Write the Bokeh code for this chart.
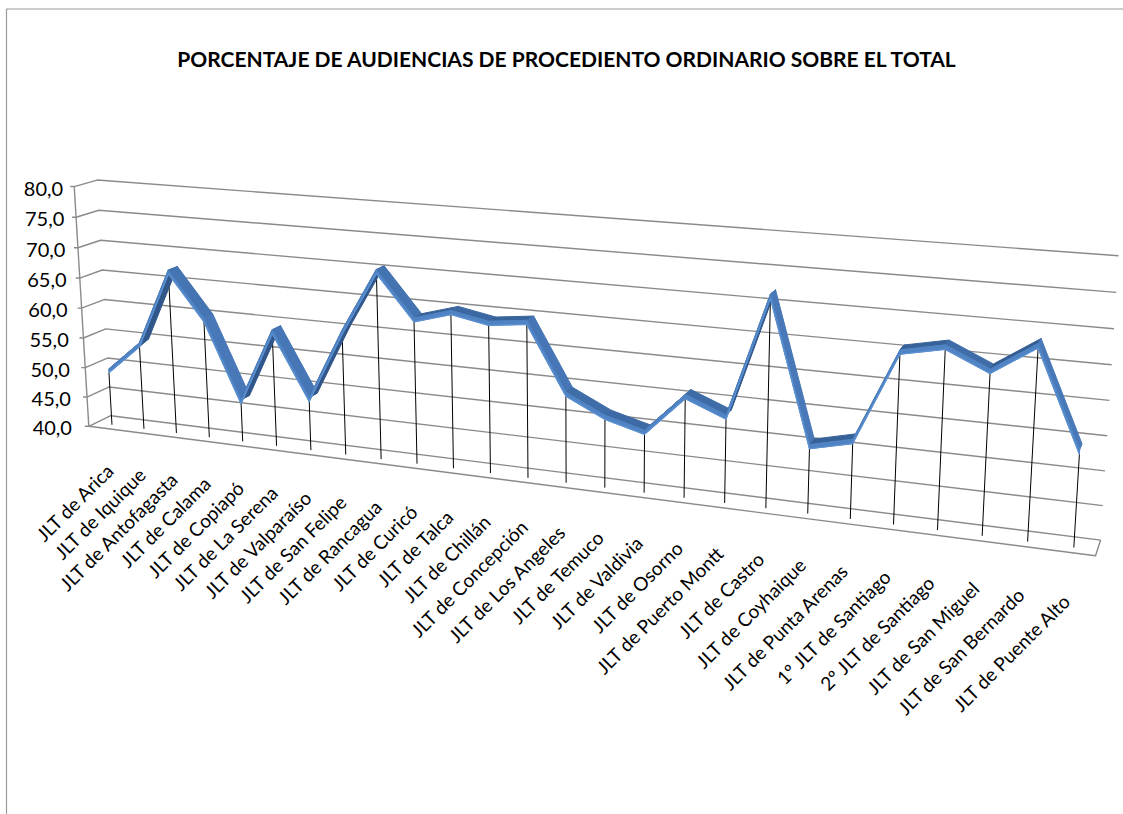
import numpy as np
from bokeh.plotting import figure
from bokeh.models import Range1d
from bokeh.embed import file_html
from bokeh.resources import INLINE
from bokeh.core.properties import value

# ---------------------------------------------------------------- data
categorias = [
    "JLT de Arica", "JLT de Iquique", "JLT de Antofagasta", "JLT de Calama",
    "JLT de Copiapó", "JLT de La Serena", "JLT de Valparaíso", "JLT de San Felipe",
    "JLT de Rancagua", "JLT de Curicó", "JLT de Talca", "JLT de Chillán",
    "JLT de Concepción", "JLT de Los Angeles", "JLT de Temuco", "JLT de Valdivia",
    "JLT de Osorno", "JLT de Puerto Montt", "JLT de Castro", "JLT de Coyhaique",
    "JLT de Punta Arenas", "1º JLT de Santiago", "2º JLT de Santiago",
    "JLT de San Miguel", "JLT de San Bernardo", "JLT de Puente Alto",
]
porcentaje = [
    48.9, 53.9, 66.5, 59.2, 46.3, 58.4, 48.0, 59.5, 69.6, 62.6,
    64.3, 63.2, 63.9, 53.5, 50.6, 49.0, 55.1, 52.7, 71.1, 49.7,
    51.2, 64.8, 66.1, 63.3, 67.5, 53.3,
]
y_ticks = [40, 45, 50, 55, 60, 65, 70, 75, 80]
y_tick_labels = ["40,0", "45,0", "50,0", "55,0", "60,0", "65,0", "70,0", "75,0", "80,0"]
titulo = "PORCENTAJE DE AUDIENCIAS DE PROCEDIENTO ORDINARIO SOBRE EL TOTAL"

V_MIN, V_MAX = 40.0, 80.0
W, H = 1123, 814

# ------------------------------------------------- 3-D box / camera
# Box coordinates: u along the categories (0..1), v value fraction (0..1),
# w depth (0 = front, 1 = back wall).  The camera is solved from where the
# box edges sit on the page (direct linear transform).
back_left_y = [415, 387, 358, 328, 298, 269, 240, 210, 180]
back_right_y = [540, 505, 470, 435, 400, 365, 328, 292, 255]
calib_world, calib_page = [], []
for k in range(9):
    v = k / 8.0
    calib_world.append((0.0, v, 1.0)); calib_page.append((110 - 13 * v, back_left_y[k]))
    calib_world.append((1.0, v, 1.0)); calib_page.append((1100 + 18 * v, back_right_y[k]))
calib_world += [(0.0, 0.0, 0.0), (0.0, 1.0, 0.0), (1.0, 0.0, 0.0)]
calib_page += [(89, 426), (73, 186), (1095, 555)]


def solve_camera(world, page):
    s = np.asarray(page, float)
    m = s.mean(0)
    sc = np.sqrt(2) / np.mean(np.linalg.norm(s - m, axis=1))
    T = np.array([[sc, 0, -sc * m[0]], [0, sc, -sc * m[1]], [0, 0, 1]])
    sn = (s - m) * sc
    rows = []
    for (X, Y, Z), (x, y) in zip(world, sn):
        rows.append([X, Y, Z, 1, 0, 0, 0, 0, -x * X, -x * Y, -x * Z, -x])
        rows.append([0, 0, 0, 0, X, Y, Z, 1, -y * X, -y * Y, -y * Z, -y])
    _, _, vt = np.linalg.svd(np.asarray(rows, float))
    return np.linalg.inv(T) @ vt[-1].reshape(3, 4)


CAM = solve_camera(calib_world, calib_page)


def proj(u, v, w):
    u, v, w = np.broadcast_arrays(np.atleast_1d(np.asarray(u, float)),
                                  np.atleast_1d(np.asarray(v, float)),
                                  np.atleast_1d(np.asarray(w, float)))
    h = CAM @ np.vstack([u, v, w, np.ones_like(u)])
    return h[0] / h[2], h[1] / h[2]


def vfrac(val):
    return (np.asarray(val, float) - V_MIN) / (V_MAX - V_MIN)


N = len(categorias)
u_cat = (np.arange(N) + 0.5) / N
v_dat = vfrac(porcentaje)
WF, WB = 0.33, 0.76          # front / back depth of the series ribbon
RH = 0.016                   # height of the ribbon's front face (value fraction)

# ---------------------------------------------------------------- figure
p = figure(width=W, height=H, x_range=Range1d(0, W), y_range=Range1d(H, 0),
           x_axis_type=None, y_axis_type=None, output_backend="svg",
           toolbar_location=None, min_border=0, background_fill_color="white")
p.grid.visible = False
p.outline_line_color = None

GRID = "#8a8a8a"

# chart area frame
p.line([6, 6, W + 5], [H + 5, 8.5, 8.5], line_color="#9a9a9a", line_width=1.2)

# back wall and side wall gridlines
gx, gy = [], []
for t in y_ticks:
    v = vfrac(t)
    x0, y0 = proj([0, 0, 1], [v, v, v], [0, 1, 1])
    fx, fy = proj(0, v, 0)
    gx.append([fx[0] - 4] + list(x0)); gy.append([fy[0]] + list(y0))
p.multi_line(gx, gy, line_color=GRID, line_width=1.4)

# value axis (front left edge)
ax, ay = proj([0, 0], [0, 1], [0, 0])
p.line(ax, ay, line_color=GRID, line_width=1.4)

# floor outline
fx, fy = proj([0, 1, 1], [0, 0, 0], [0, 0, 1])
p.line(fx, fy, line_color=GRID, line_width=1.4)

# value labels
tx, ty = proj(np.zeros(len(y_ticks)), vfrac(y_ticks), np.zeros(len(y_ticks)))
lx = tx - 11 - 0.4 * (tx - tx[-1])
p.text(lx, ty + 2, text=y_tick_labels, text_align="right", text_baseline="middle",
       text_font=value("Lato"), text_font_size="20px", text_color="#000000")

# drop lines
dx0, dy0 = proj(u_cat, v_dat, WF)
dx1, dy1 = proj(u_cat, 0.0, WF)
p.segment(dx0, dy0, dx1, dy1, line_color="#000000", line_width=1)

# series ribbon: top face shaded by slope, front face lighter
c_desc = np.array([72, 120, 184])
c_flat = np.array([58, 102, 158])
c_asc = np.array([48, 86, 138])


def top_colour(du, dv):
    ang = np.degrees(np.arctan2(dv, du))
    k = min(abs(ang) / 65.0, 1.0)
    end = c_desc if ang < 0 else c_asc
    c = (c_flat + (end - c_flat) * k).astype(int)
    return "#%02x%02x%02x" % tuple(c)


top_xs, top_ys, top_cols = [], [], []
front_xs, front_ys = [], []
for i in range(N - 1):
    u2 = [u_cat[i], u_cat[i + 1], u_cat[i + 1], u_cat[i]]
    v_top = [v_dat[i] + RH, v_dat[i + 1] + RH, v_dat[i + 1] + RH, v_dat[i] + RH]
    px, py = proj(u2, v_top, [WF, WF, WB, WB])
    top_xs.append(list(px)); top_ys.append(list(py))
    du = (u_cat[i + 1] - u_cat[i]) * 1000
    dv = (v_dat[i + 1] - v_dat[i]) * 260
    top_cols.append(top_colour(du, dv))
    qx, qy = proj(u2, [v_dat[i], v_dat[i + 1], v_dat[i + 1] + RH, v_dat[i] + RH], WF)
    front_xs.append(list(qx)); front_ys.append(list(qy))

p.patches(top_xs, top_ys, fill_color=top_cols, line_color=top_cols, line_width=1)
p.patches(front_xs, front_ys, fill_color="#4f83c3", line_color="#4f83c3", line_width=1)
ex, ey = proj(u_cat, v_dat, WF)
p.line(ex, ey, line_color="#5c91d2", line_width=1.2)

# category labels
cx, cy = proj(u_cat, -0.18, WF)
p.text(cx - 4, cy, text=categorias, angle=np.pi / 4, text_align="right",
       text_baseline="middle", text_font=value("Lato"), text_font_size="19px",
       text_color="#000000")

# title
p.text([567], [58], text=[titulo], text_align="center", text_baseline="middle",
       text_font=value("Lato"), text_font_style="bold", text_font_size="21px",
       text_color="#000000")

open("out.html", "w").write(file_html(p, INLINE))
